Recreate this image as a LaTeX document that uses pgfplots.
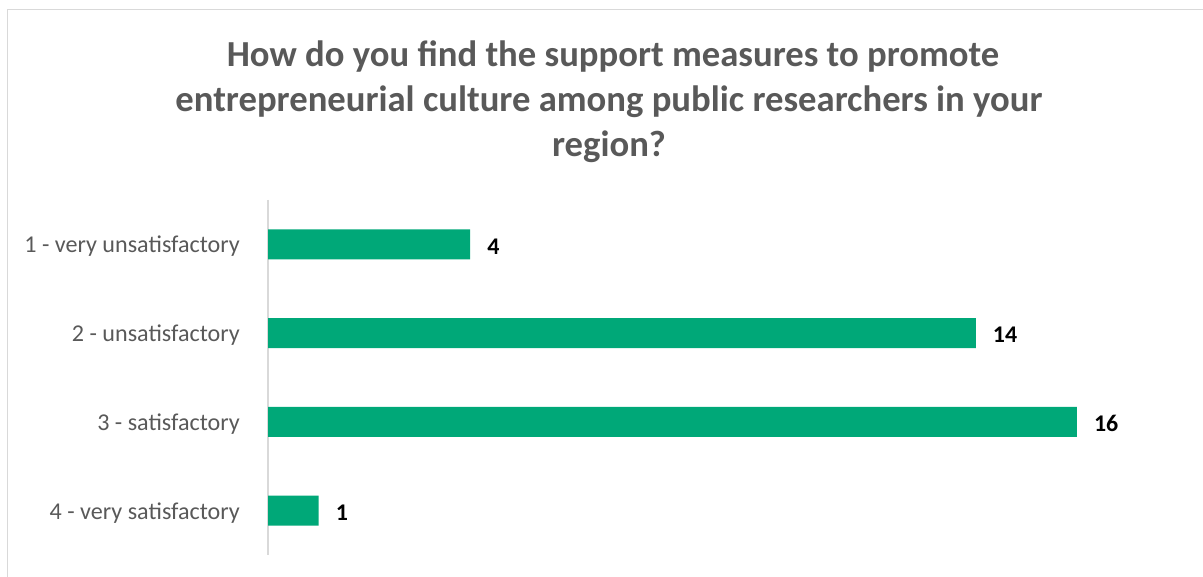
\documentclass[border=0pt]{standalone}
\usepackage{pgfplots}
\pgfplotsset{compat=1.18}
\usepackage{fontspec}
\setmainfont{Carlito}
\definecolor{barc}{RGB}{0,168,120}
\definecolor{txtgray}{RGB}{89,89,89}
\definecolor{linegray}{RGB}{217,217,217}
\begin{document}
\begin{tikzpicture}[x=1bp,y=1bp]
\useasboundingbox (0,0) rectangle (1203,577);
\draw[linegray, line width=1.5bp] (7.5,-5) -- (7.5,567.5) -- (1210,567.5);
\node[anchor=base, text=txtgray, font=\fontsize{36.8}{44}\selectfont\bfseries] at (613,510) {How do you find the support measures to promote};
\node[anchor=base, text=txtgray, font=\fontsize{36.8}{44}\selectfont\bfseries] at (609,465) {entrepreneurial culture among public researchers in your};
\node[anchor=base, text=txtgray, font=\fontsize{36.8}{44}\selectfont\bfseries] at (609,420) {region?};
\begin{axis}[
  at={(268bp,22bp)}, anchor=south west,
  scale only axis, width=910bp, height=355bp,
  xmin=0, xmax=18, ymin=0.5, ymax=4.5, y dir=reverse,
  xbar, bar width=30bp,
  axis x line=none,
  axis y line*=left,
  y axis line style={draw=linegray, line width=1.2bp},
  ytick={1,2,3,4},
  yticklabels={1 - very unsatisfactory, 2 - unsatisfactory, 3 - satisfactory, 4 - very satisfactory},
  major tick length=0,
  yticklabel style={font=\fontsize{24.2}{28}\selectfont, text=txtgray, inner sep=0pt, xshift=-28bp, yshift=-2bp},
  nodes near coords,
  nodes near coords style={font=\fontsize{24}{28}\selectfont\bfseries, text=black, anchor=west, inner sep=0pt, xshift=17bp, yshift=-2bp},
  /pgf/number format/assume math mode=true,
]
\addplot[fill=barc, draw=none] coordinates {(4,1) (14,2) (16,3) (1,4)};
\end{axis}
\end{tikzpicture}
\end{document}
